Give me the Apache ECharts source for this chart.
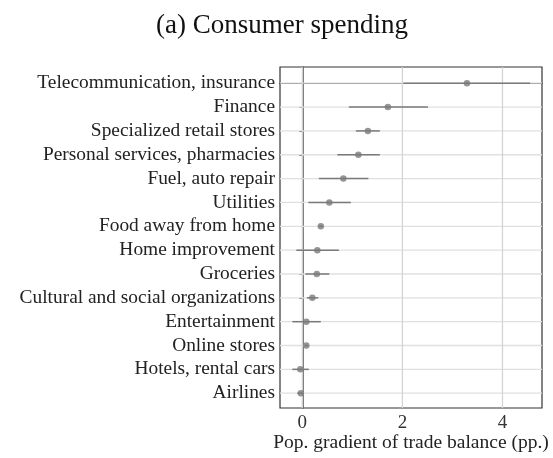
<!DOCTYPE html>
<html>
<head>
<meta charset="utf-8">
<script src="https://cdn.jsdelivr.net/npm/echarts@6/dist/echarts.min.js"></script>
<style>html,body{margin:0;padding:0;background:#fff}#c{width:553px;height:458px}</style>
</head>
<body>
<div id="c"></div>
<script>
const categories = ["Telecommunication, insurance","Finance","Specialized retail stores","Personal services, pharmacies","Fuel, auto repair","Utilities","Food away from home","Home improvement","Groceries","Cultural and social organizations","Entertainment","Online stores","Hotels, rental cars","Airlines"];
const estimates = [3.29, 1.71, 1.31, 1.12, 0.82, 0.54, 0.37, 0.30, 0.29, 0.20, 0.08, 0.08, -0.04, -0.03];
const ciLow    = [2.02, 0.93, 1.07, 0.70, 0.33, 0.12, 0.33, -0.12, 0.06, 0.09, -0.20, 0.05, -0.20, -0.10];
const ciHigh   = [4.55, 2.51, 1.55, 1.55, 1.32, 0.97, 0.41, 0.73, 0.54, 0.32, 0.37, 0.11, 0.13, 0.02];
const xTicks = [0, 2, 4];

const rowIdx = categories.map((c, i) => i);
const serif = "'Liberation Serif', 'DejaVu Serif', serif";

const chart = echarts.init(document.getElementById('c'), null, {renderer: 'canvas'});
chart.setOption({
  animation: false,
  title: {
    text: '(a) Consumer spending', left: 151, top: 7,
    textStyle: {fontFamily: serif, fontSize: 27, fontWeight: 'normal', color: '#111'}
  },
  grid: {left: 280, top: 67, right: 11, bottom: 50, outerBoundsMode: 'none', containLabel: false, show: true, borderColor: '#333', borderWidth: 1.2, backgroundColor: 'transparent'},
  xAxis: {
    type: 'value', min: -0.446, max: 4.79,
    name: 'Pop. gradient of trade balance (pp.)', nameLocation: 'middle', nameGap: 25, nameMoveOverlap: false,
    nameTextStyle: {fontFamily: serif, fontSize: 19.5, color: '#222'},
    axisLine: {show: true, lineStyle: {color: '#111', width: 1.2}},
    axisTick: {show: true, length: 3, customValues: xTicks, lineStyle: {color: '#333'}},
    axisLabel: {customValues: xTicks, fontFamily: serif, fontSize: 19, color: '#333', margin: 6},
    splitLine: {show: false}
  },
  yAxis: {
    type: 'value', inverse: true, min: -0.68, max: 13.62,
    axisLine: {show: true, lineStyle: {color: '#555', width: 1.5}},
    axisTick: {show: true, length: 3, customValues: rowIdx, lineStyle: {color: '#333'}},
    axisLabel: {customValues: rowIdx, formatter: v => categories[Math.round(v)] || '', fontFamily: serif, fontSize: 19.4, color: '#222', margin: 5},
    splitLine: {show: false}
  },
  series: [
    {
      type: 'custom', z: 1, silent: true,
      data: rowIdx.map(i => [0, i]).concat(xTicks.map(v => [1, v])),
      renderItem: function (params, api) {
        const cs = params.coordSys;
        const kind = api.value(0), v = api.value(1);
        if (kind === 0) {
          const y = api.coord([0, v])[1];
          return {type: 'line', shape: {x1: cs.x, y1: y, x2: cs.x + cs.width, y2: y}, style: {stroke: '#e0e0e0', lineWidth: 1.3}};
        }
        const x = api.coord([v, 0])[0];
        return {type: 'line', shape: {x1: x, y1: cs.y, x2: x, y2: cs.y + cs.height}, style: {stroke: '#d4d4d4', lineWidth: 1.3}};
      }
    },
    {
      type: 'custom', z: 2, silent: true,
      data: rowIdx.map(i => [i, ciLow[i], ciHigh[i]]),
      encode: {x: [1, 2], y: 0},
      renderItem: function (params, api) {
        const a = api.coord([api.value(1), api.value(0)]);
        const b = api.coord([api.value(2), api.value(0)]);
        return {type: 'line', shape: {x1: a[0], y1: a[1], x2: b[0], y2: b[1]}, style: {stroke: '#7a7a7a', lineWidth: 1.5}};
      }
    },
    {
      type: 'scatter', z: 3, symbol: 'circle', symbolSize: 6.5,
      data: rowIdx.map(i => [estimates[i], i]),
      itemStyle: {color: '#7a7a7a'}
    }
  ]
});
</script>
</body>
</html>
